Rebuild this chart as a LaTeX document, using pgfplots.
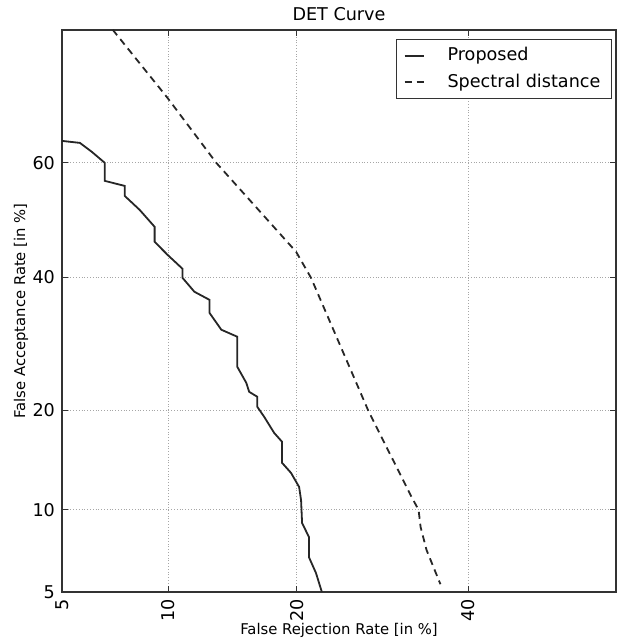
\documentclass[border=0pt]{standalone}
\usepackage{fontspec}
\setmainfont{DejaVu Sans}
\usepackage{pgfplots}
\pgfplotsset{compat=1.18}

% normal deviate of a percentage (Abramowitz-Stegun 26.2.23), used as axis trafo
\newcommand\probitcalc[1]{%
  \pgfmathparse{#1/100}\let\prP\pgfmathresult
  \pgfmathparse{\prP<0.5 ? \prP : 1-\prP}\let\prQ\pgfmathresult
  \pgfmathparse{sqrt(-2*ln(\prQ))}\let\prT\pgfmathresult
  \pgfmathparse{\prT-(2.515517+0.802853*\prT+0.010328*\prT*\prT)/(1+1.432788*\prT+0.189269*\prT*\prT+0.001308*\prT*\prT*\prT)}\let\prZ\pgfmathresult
  \pgfmathparse{\prP<0.5 ? 0-\prZ : \prZ}%
}

\begin{document}
\begin{tikzpicture}
\begin{axis}[
    scale only axis,
    width=277pt, height=281pt,
    x coord trafo/.code={\probitcalc{#1}},
    y coord trafo/.code={\probitcalc{#1}},
    xmin=5, xmax=60, ymin=5, ymax=80,
    xtick={5,10,20,40}, xticklabels={5,10,20,40},
    ytick={5,10,20,40,60}, yticklabels={5,10,20,40,60},
    tick align=inside,
    major tick length=3pt,
    grid=major,
    major grid style={densely dotted, gray!70, line width=0.5pt},
    axis line style={black!80, line width=0.8pt},
    tick style={black!80, line width=0.5pt},
    ticklabel style={font=\fontsize{8.8}{10}\selectfont},
    xticklabel style={rotate=90, anchor=east},
    xlabel={False Rejection Rate [in \%]},
    ylabel={False Acceptance Rate [in \%]},
    label style={font=\fontsize{7.4}{9}\selectfont},
    xlabel style={at={(axis description cs:0.5,-0.0676)}, anchor=center},
    ylabel style={at={(axis description cs:-0.074,0.5)}, anchor=center},
    title={DET Curve},
    every axis title shift=0pt,
    title style={font=\fontsize{8.8}{10}\selectfont, at={(axis description cs:0.5,1.0285)}, anchor=center},
    legend cell align=left,
    legend image code/.code={\draw[#1] (0pt,0pt) -- (9.5pt,0pt);},
    legend style={at={(axis description cs:1,1)}, anchor=north east,
        xshift=-2pt, yshift=-4.5pt, draw=black!80, line width=0.6pt,
        font=\fontsize{8.8}{10}\selectfont, inner xsep=3.5pt, inner ysep=2pt,
        nodes={inner xsep=2pt}, row sep=1pt,
        /tikz/every odd column/.append style={column sep=9.5pt}},
]
\addplot[black!85, line width=0.9pt] coordinates {
(5.00,63.70) (5.67,63.37) (6.15,61.87) (6.71,60.00) (6.71,56.89) (7.64,56.02)
(7.64,54.27) (8.40,51.81) (9.22,48.81) (9.22,46.17) (9.97,43.89) (10.90,41.46)
(10.90,39.91) (11.68,37.55) (12.72,36.21) (12.72,34.08) (13.59,31.37) (14.82,30.28)
(14.82,25.80) (15.54,23.58) (15.78,22.37) (16.46,21.72) (16.46,20.44) (17.05,19.21)
(17.93,17.33) (18.65,16.34) (18.65,14.15) (19.48,13.18) (20.25,11.90) (20.44,10.79)
(20.54,9.02) (21.21,8.06) (21.21,6.81) (21.92,5.93) (22.52,5.00)
};
\addlegendentry{Proposed}
\addplot[black!85, line width=0.9pt, dash pattern=on 3.5pt off 2.5pt] coordinates {
(7.07,80.00) (9.97,70.57) (13.22,60.00) (19.96,44.42) (21.42,39.91) (27.62,19.82)
(32.72,11.04) (33.59,10.00) (33.84,8.74) (34.59,7.23) (36.36,5.37)
};
\addlegendentry{Spectral distance}
\end{axis}
\pgfresetboundingbox
\path ([shift={(-31pt,-24.5pt)}]current axis.south west) rectangle ([shift={(4pt,15pt)}]current axis.north east);
\end{tikzpicture}
\end{document}
